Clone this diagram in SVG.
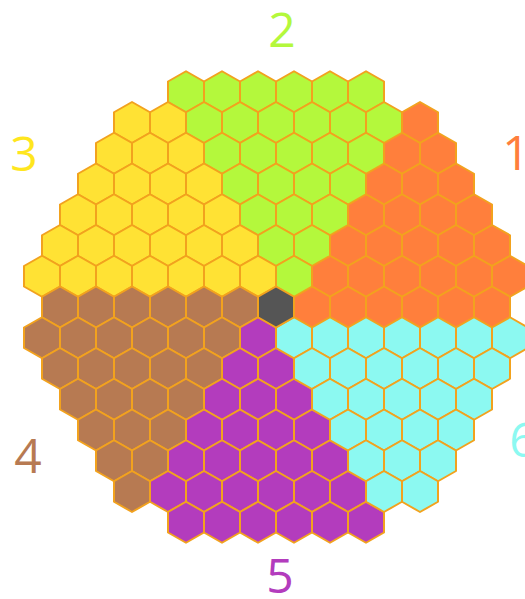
<svg xmlns="http://www.w3.org/2000/svg" xmlns:xlink="http://www.w3.org/1999/xlink" width="525" height="599" viewBox="0 0 525 599">
<defs>
<style>
.cell{stroke:#f2a21e;stroke-width:2;stroke-linejoin:round}
.s1{fill:#ff7f3c}
.s2{fill:#b4f83c}
.s3{fill:#ffe234}
.s4{fill:#b77a52}
.s5{fill:#b33cbd}
.s6{fill:#8cf9f1}
.s0{fill:#555555}
.lbl{font-family:"Open Sans","Noto Sans",sans-serif;font-size:48px;text-anchor:middle}
</style>
<polygon id="hex" points="0,-20.5 18,-10.25 18,10.25 0,20.5 -18,10.25 -18,-10.25"/>
</defs>
<rect width="525" height="599" fill="#ffffff"/>
<g id="sector-1" class="cell s1">
<use href="#hex" x="420" y="122.5"/>
<use href="#hex" x="402" y="153.25"/><use href="#hex" x="438" y="153.25"/>
<use href="#hex" x="384" y="184"/><use href="#hex" x="420" y="184"/><use href="#hex" x="456" y="184"/>
<use href="#hex" x="366" y="214.75"/><use href="#hex" x="402" y="214.75"/><use href="#hex" x="438" y="214.75"/><use href="#hex" x="474" y="214.75"/>
<use href="#hex" x="348" y="245.5"/><use href="#hex" x="384" y="245.5"/><use href="#hex" x="420" y="245.5"/><use href="#hex" x="456" y="245.5"/><use href="#hex" x="492" y="245.5"/>
<use href="#hex" x="330" y="276.25"/><use href="#hex" x="366" y="276.25"/><use href="#hex" x="402" y="276.25"/><use href="#hex" x="438" y="276.25"/><use href="#hex" x="474" y="276.25"/><use href="#hex" x="510" y="276.25"/>
<use href="#hex" x="312" y="307"/><use href="#hex" x="348" y="307"/><use href="#hex" x="384" y="307"/><use href="#hex" x="420" y="307"/><use href="#hex" x="456" y="307"/><use href="#hex" x="492" y="307"/>
</g>
<g id="sector-2" class="cell s2">
<use href="#hex" x="186" y="91.75"/><use href="#hex" x="222" y="91.75"/><use href="#hex" x="258" y="91.75"/><use href="#hex" x="294" y="91.75"/><use href="#hex" x="330" y="91.75"/><use href="#hex" x="366" y="91.75"/>
<use href="#hex" x="204" y="122.5"/><use href="#hex" x="240" y="122.5"/><use href="#hex" x="276" y="122.5"/><use href="#hex" x="312" y="122.5"/><use href="#hex" x="348" y="122.5"/><use href="#hex" x="384" y="122.5"/>
<use href="#hex" x="222" y="153.25"/><use href="#hex" x="258" y="153.25"/><use href="#hex" x="294" y="153.25"/><use href="#hex" x="330" y="153.25"/><use href="#hex" x="366" y="153.25"/>
<use href="#hex" x="240" y="184"/><use href="#hex" x="276" y="184"/><use href="#hex" x="312" y="184"/><use href="#hex" x="348" y="184"/>
<use href="#hex" x="258" y="214.75"/><use href="#hex" x="294" y="214.75"/><use href="#hex" x="330" y="214.75"/>
<use href="#hex" x="276" y="245.5"/><use href="#hex" x="312" y="245.5"/>
<use href="#hex" x="294" y="276.25"/>
</g>
<g id="sector-3" class="cell s3">
<use href="#hex" x="132" y="122.5"/><use href="#hex" x="168" y="122.5"/>
<use href="#hex" x="114" y="153.25"/><use href="#hex" x="150" y="153.25"/><use href="#hex" x="186" y="153.25"/>
<use href="#hex" x="96" y="184"/><use href="#hex" x="132" y="184"/><use href="#hex" x="168" y="184"/><use href="#hex" x="204" y="184"/>
<use href="#hex" x="78" y="214.75"/><use href="#hex" x="114" y="214.75"/><use href="#hex" x="150" y="214.75"/><use href="#hex" x="186" y="214.75"/><use href="#hex" x="222" y="214.75"/>
<use href="#hex" x="60" y="245.5"/><use href="#hex" x="96" y="245.5"/><use href="#hex" x="132" y="245.5"/><use href="#hex" x="168" y="245.5"/><use href="#hex" x="204" y="245.5"/><use href="#hex" x="240" y="245.5"/>
<use href="#hex" x="42" y="276.25"/><use href="#hex" x="78" y="276.25"/><use href="#hex" x="114" y="276.25"/><use href="#hex" x="150" y="276.25"/><use href="#hex" x="186" y="276.25"/><use href="#hex" x="222" y="276.25"/><use href="#hex" x="258" y="276.25"/>
</g>
<g id="sector-4" class="cell s4">
<use href="#hex" x="60" y="307"/><use href="#hex" x="96" y="307"/><use href="#hex" x="132" y="307"/><use href="#hex" x="168" y="307"/><use href="#hex" x="204" y="307"/><use href="#hex" x="240" y="307"/>
<use href="#hex" x="42" y="337.75"/><use href="#hex" x="78" y="337.75"/><use href="#hex" x="114" y="337.75"/><use href="#hex" x="150" y="337.75"/><use href="#hex" x="186" y="337.75"/><use href="#hex" x="222" y="337.75"/>
<use href="#hex" x="60" y="368.5"/><use href="#hex" x="96" y="368.5"/><use href="#hex" x="132" y="368.5"/><use href="#hex" x="168" y="368.5"/><use href="#hex" x="204" y="368.5"/>
<use href="#hex" x="78" y="399.25"/><use href="#hex" x="114" y="399.25"/><use href="#hex" x="150" y="399.25"/><use href="#hex" x="186" y="399.25"/>
<use href="#hex" x="96" y="430"/><use href="#hex" x="132" y="430"/><use href="#hex" x="168" y="430"/>
<use href="#hex" x="114" y="460.75"/><use href="#hex" x="150" y="460.75"/>
<use href="#hex" x="132" y="491.5"/>
</g>
<g id="sector-5" class="cell s5">
<use href="#hex" x="258" y="337.75"/>
<use href="#hex" x="240" y="368.5"/><use href="#hex" x="276" y="368.5"/>
<use href="#hex" x="222" y="399.25"/><use href="#hex" x="258" y="399.25"/><use href="#hex" x="294" y="399.25"/>
<use href="#hex" x="204" y="430"/><use href="#hex" x="240" y="430"/><use href="#hex" x="276" y="430"/><use href="#hex" x="312" y="430"/>
<use href="#hex" x="186" y="460.75"/><use href="#hex" x="222" y="460.75"/><use href="#hex" x="258" y="460.75"/><use href="#hex" x="294" y="460.75"/><use href="#hex" x="330" y="460.75"/>
<use href="#hex" x="168" y="491.5"/><use href="#hex" x="204" y="491.5"/><use href="#hex" x="240" y="491.5"/><use href="#hex" x="276" y="491.5"/><use href="#hex" x="312" y="491.5"/><use href="#hex" x="348" y="491.5"/>
<use href="#hex" x="186" y="522.25"/><use href="#hex" x="222" y="522.25"/><use href="#hex" x="258" y="522.25"/><use href="#hex" x="294" y="522.25"/><use href="#hex" x="330" y="522.25"/><use href="#hex" x="366" y="522.25"/>
</g>
<g id="sector-6" class="cell s6">
<use href="#hex" x="294" y="337.75"/><use href="#hex" x="330" y="337.75"/><use href="#hex" x="366" y="337.75"/><use href="#hex" x="402" y="337.75"/><use href="#hex" x="438" y="337.75"/><use href="#hex" x="474" y="337.75"/><use href="#hex" x="510" y="337.75"/>
<use href="#hex" x="312" y="368.5"/><use href="#hex" x="348" y="368.5"/><use href="#hex" x="384" y="368.5"/><use href="#hex" x="420" y="368.5"/><use href="#hex" x="456" y="368.5"/><use href="#hex" x="492" y="368.5"/>
<use href="#hex" x="330" y="399.25"/><use href="#hex" x="366" y="399.25"/><use href="#hex" x="402" y="399.25"/><use href="#hex" x="438" y="399.25"/><use href="#hex" x="474" y="399.25"/>
<use href="#hex" x="348" y="430"/><use href="#hex" x="384" y="430"/><use href="#hex" x="420" y="430"/><use href="#hex" x="456" y="430"/>
<use href="#hex" x="366" y="460.75"/><use href="#hex" x="402" y="460.75"/><use href="#hex" x="438" y="460.75"/>
<use href="#hex" x="384" y="491.5"/><use href="#hex" x="420" y="491.5"/>
</g>
<g id="center" class="cell s0">
<use href="#hex" x="276" y="307"/>
</g>
<g id="labels" class="lbl">
<text id="label-1" x="516" y="170" fill="#ff7f3c">1</text>
<text id="label-2" x="282" y="47" fill="#b4f83c">2</text>
<text id="label-3" x="24" y="171" fill="#ffe61e">3</text>
<text id="label-4" x="28" y="473" fill="#b77a52">4</text>
<text id="label-5" x="280" y="593" fill="#b33cbd">5</text>
<text id="label-6" x="523" y="457" fill="#8cf9f1">6</text>
</g>
</svg>
